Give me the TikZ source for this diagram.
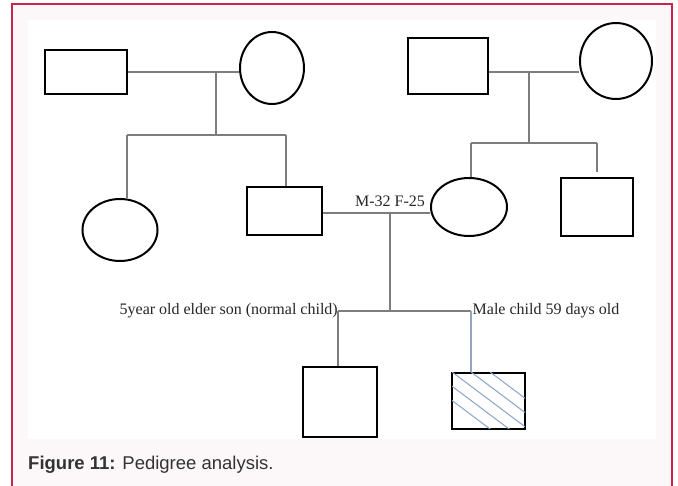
\documentclass[tikz,border=0pt]{standalone}
\usepackage{fontspec}
\setmainfont{Liberation Serif}
\newfontfamily\capfont{Liberation Sans}
\usepackage{xcolor}
\usetikzlibrary{shapes.geometric}
\definecolor{framered}{RGB}{200,36,78}
\definecolor{pagebg}{RGB}{252,248,250}
\definecolor{linegray}{RGB}{125,125,125}
\definecolor{hatchblue}{RGB}{140,165,205}
\definecolor{bluegray}{RGB}{150,165,190}
\tikzset{
  male/.style={draw=black,line width=2pt,fill=white,rectangle,inner sep=0pt},
  female/.style={draw=black,line width=2pt,fill=white,ellipse,inner sep=0pt},
  link/.style={draw=linegray,line width=1.3pt},
  note/.style={font=\fontsize{16}{18}\selectfont,text=black!85,inner sep=0pt}
}

\begin{document}
\begin{tikzpicture}[x=1pt,y=-1pt]
\useasboundingbox (0,0) rectangle (678,486);
\fill[white] (0,0) rectangle (678,486);
\fill[pagebg] (12,4) rectangle (672,486);
\fill[white] (28,20) rectangle (656,439);
\draw[framered,line width=1.5pt] (12,486) -- (12,4) -- (672,4) -- (672,486);

%% grandparents, father's side
\node[male,minimum width=82pt,minimum height=44pt] (gfa) at (86,72) {};
\node[female,minimum width=64pt,minimum height=72pt] (gma) at (272,68) {};
\coordinate (da) at (216,72);
\coordinate (sa) at (216,135);
\coordinate (sal) at (127,135);
\coordinate (sar) at (286,135);
\node[female,minimum width=75pt,minimum height=62pt] (aunt) at (120,230) {};
\node[male,minimum width=75pt,minimum height=48pt] (father) at (284.5,211) {};

%% grandparents, mother's side
\node[male,minimum width=80pt,minimum height=56pt] (gfb) at (448,66) {};
\node[female,minimum width=72pt,minimum height=76pt] (gmb) at (616,61) {};
\coordinate (db) at (529,72);
\coordinate (sb) at (529,143);
\coordinate (sbl) at (471,143);
\coordinate (sbr) at (597,143);
\node[female,minimum width=76pt,minimum height=58pt] (mother) at (469,207) {};
\node[male,minimum width=72pt,minimum height=58pt] (uncle) at (597,207) {};

%% couple and children
\coordinate (dc) at (390,213);
\coordinate (sc) at (390,311);
\coordinate (scl) at (338,311);
\coordinate (scr) at (471,311);
\node[note,anchor=base] (ages) at ([yshift=6pt]dc) {M-32 F-25};
\node[note,anchor=east] (sonnote) at (scl) {5year old elder son (normal child)};
\node[note,anchor=west,inner sep=1.5pt] (babynote) at (scr) {Male child 59 days old};
\node[male,minimum width=74pt,minimum height=70pt] (son) at (340,402) {};
\node[male,minimum width=73pt,minimum height=56pt] (baby) at (488.5,401) {};
\begin{scope}
\clip ([xshift=1pt,yshift=-1pt]baby.north west) rectangle ([xshift=-1pt,yshift=1pt]baby.south east);
\foreach \dx in {39,20,1,-18,-37}
  \draw[hatchblue,line width=1pt] ([xshift=\dx pt]baby.north west) -- ++(80,60);
\end{scope}

%% lines
\draw[link] (gfa.east) -- (gfa.east -| gma.west);
\draw[link] (da) -- (sa);
\draw[link] (sal) -- (sar);
\draw[link] (sal) -- (sal |- aunt.north);
\draw[link] (sar) -- (sar |- father.north);
%%
\draw[link] (db -| gfb.east) -- (db -| gmb.west);
\draw[link] (db) -- (sb);
\draw[link] (sbl) -- (sbr);
\draw[link] (sbl) -- (sbl |- mother.north);
\draw[link,shorten >=5pt] (sbr) -- (uncle.north);
%%
\draw[link] (dc -| father.east) -- (dc -| mother.west);
\draw[link] (dc) -- (sc);
\draw[link] (scl) -- (scr);
\draw[link] (scl) -- (scl |- son.north);
\draw[link,draw=bluegray] (scr) -- (scr |- baby.north);

%% caption
\node[anchor=west,inner sep=0pt,font=\capfont\fontsize{18.5}{20}\selectfont,text=black!80] (cap) at (28,465) {\textbf{Figure 11:} Pedigree analysis.};
\end{tikzpicture}
\end{document}
